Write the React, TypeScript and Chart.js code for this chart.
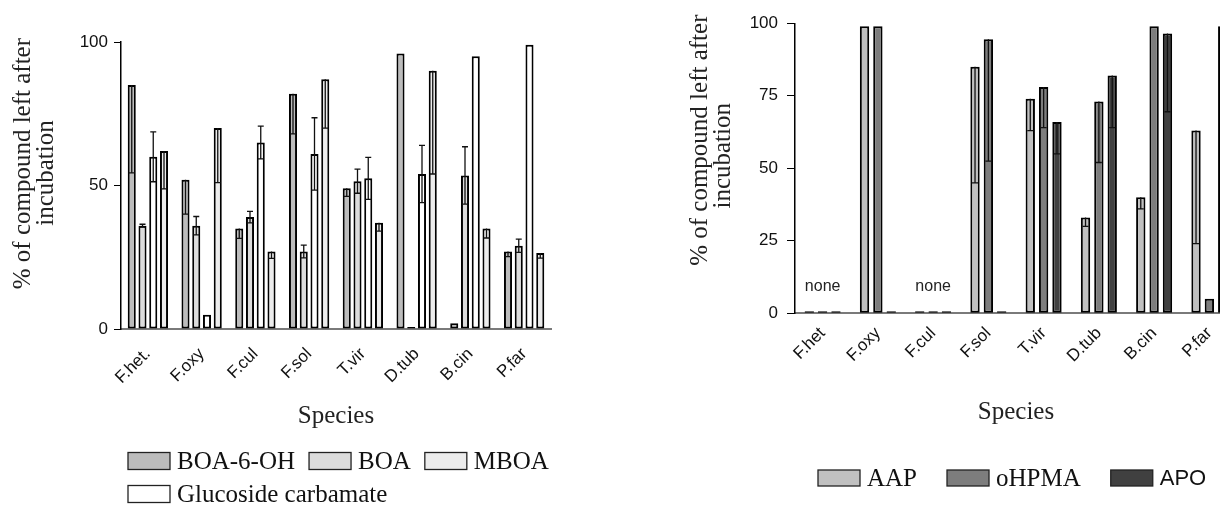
import React, { useEffect, useRef } from 'react';
import { Chart, registerables } from 'chart.js';

Chart.register(...registerables);

// ---------- Left panel data ----------
const speciesLeft = ['F.het.', 'F.oxy', 'F.cul', 'F.sol', 'T.vir', 'D.tub', 'B.cin', 'P.far'];
const boa6ohValues = [85, 52, 35, 82, 49, 96, 2, 27];
const boa6ohErrors = [30.6, 12, 3.4, 14, 2.8, 0, 0, 1.8];
const boaValues = [36, 36, 39, 27, 51.5, 0, 53.5, 29];
const boaErrors = [0.5, 3.2, 2, 2.2, 4.2, 0, 10, 2.3];
const glucosideValues = [60, 5, 65, 61, 52.5, 54, 95, 99];
const glucosideErrors = [8.7, 0, 5.7, 12.6, 7.3, 10, 0, 0];
const mboaValues = [62, 70, 27, 87, 37, 90, 35, 26.5];
const mboaErrors = [13.2, 19, 2.4, 17, 2.9, 36, 3.3, 1.8];
const leftTicks = [0, 50, 100];

// ---------- Right panel data ----------
const speciesRight = ['F.het', 'F.oxy', 'F.cul', 'F.sol', 'T.vir', 'D.tub', 'B.cin', 'P.far'];
const aapValues = [0, 99, 0, 85, 74, 33, 40, 63];
const aapErrors = [0, 0, 0, 40, 11, 3, 4, 39];
const ohpmaValues = [0, 99, 0, 94.5, 78, 73, 99, 5];
const ohpmaErrors = [0, 0, 0, 42, 14, 21, 0, 0];
const apoValues = [0, 0, 0, 0, 66, 82, 96.5, 99];
const apoErrors = [0, 0, 0, 0, 11, 18, 27, 0];
const rightTicks = [0, 25, 50, 75, 100];
const noneSpecies = ['F.het', 'F.cul'];

const yTitle = '% of compound left after';
const yTitle2 = 'incubation';
const xTitle = 'Species';

const SERIF = "'Liberation Serif', 'Times New Roman', serif";
const SANS = "'Liberation Sans', Arial, sans-serif";
const nb = (n: number) => '\u00a0'.repeat(n);

// ---------- plugins ----------
const errorBarPlugin = {
  id: 'errorBars',
  afterDatasetsDraw(chart: any) {
    const { ctx, chartArea } = chart;
    const y = chart.scales.y;
    ctx.save();
    ctx.beginPath();
    ctx.rect(chartArea.left, chartArea.top - 1, chartArea.right - chartArea.left, chartArea.bottom - chartArea.top + 2);
    ctx.clip();
    ctx.strokeStyle = '#111';
    ctx.lineWidth = 1.3;
    chart.data.datasets.forEach((ds: any, i: number) => {
      const meta = chart.getDatasetMeta(i);
      const errs: number[] = ds.errors || [];
      meta.data.forEach((bar: any, j: number) => {
        const e = errs[j];
        if (!e) return;
        const v = ds.data[j];
        const x = bar.x;
        const cap = ds.capHalf || 3;
        const yLow = y.getPixelForValue(v - e);
        const yHigh = ds.errorBoth ? y.getPixelForValue(v + e) : y.getPixelForValue(v);
        ctx.beginPath();
        ctx.moveTo(x, yHigh);
        ctx.lineTo(x, yLow);
        ctx.moveTo(x - cap, yLow);
        ctx.lineTo(x + cap, yLow);
        if (ds.errorBoth) {
          ctx.moveTo(x - cap, yHigh);
          ctx.lineTo(x + cap, yHigh);
        }
        ctx.stroke();
      });
    });
    ctx.restore();
  },
};

const boxLegendPlugin = {
  id: 'boxLegend',
  afterDraw(chart: any, _args: any, opts: any) {
    const { ctx, chartArea } = chart;
    ctx.save();
    opts.rows.forEach((row: number[], r: number) => {
      let x = chartArea.left + opts.startX;
      const yc = opts.rowY[r];
      row.forEach((di: number) => {
        const ds = chart.data.datasets[di];
        ctx.fillStyle = ds.backgroundColor;
        ctx.fillRect(x, yc - opts.boxH / 2, opts.boxW, opts.boxH);
        ctx.strokeStyle = '#222';
        ctx.lineWidth = 1.3;
        ctx.strokeRect(x, yc - opts.boxH / 2, opts.boxW, opts.boxH);
        ctx.font = ds.legendFont || opts.font;
        ctx.textBaseline = 'middle';
        ctx.textAlign = 'left';
        ctx.fillStyle = '#111';
        const tx = x + opts.boxW + opts.gap;
        ctx.fillText(ds.label, tx, yc + 1);
        x = tx + ctx.measureText(ds.label).width + opts.itemGap;
      });
    });
    ctx.restore();
  },
};

const noneLabelPlugin = {
  id: 'noneLabels',
  afterDatasetsDraw(chart: any, _args: any, opts: any) {
    if (!opts || !opts.labels) return;
    const { ctx, chartArea } = chart;
    const xs = chart.scales.x;
    ctx.save();
    ctx.font = `16px ${SANS}`;
    ctx.fillStyle = '#222';
    ctx.textAlign = 'center';
    ctx.textBaseline = 'middle';
    opts.labels.forEach((name: string) => {
      const idx = chart.data.labels.indexOf(name);
      if (idx < 0) return;
      ctx.fillText('none', xs.getPixelForValue(idx), chartArea.bottom - 27);
    });
    ctx.restore();
  },
};

function makeScales(o: {
  ticks: number[];
  yWidth: number;
  xHeight: number;
  titlePad: number;
  titleLines: string[];
  xTitleBottom: number;
  xTickPad: number;
  yTickLen: number;
  yTickPad: number;
}) {
  return {
    x: {
      type: 'category',
      offset: true,
      grid: { display: false, drawTicks: false },
      border: { display: true, color: '#7a7a7a', width: 2 },
      ticks: {
        minRotation: 45,
        maxRotation: 45,
        autoSkip: false,
        padding: o.xTickPad,
        color: '#111',
        font: { family: SANS, size: 17 },
      },
      title: {
        display: true,
        text: xTitle,
        color: '#222',
        font: { family: SERIF, size: 25, lineHeight: '25px' },
        padding: { top: 0, bottom: o.xTitleBottom },
      },
      afterFit: (s: any) => {
        s.height = o.xHeight;
      },
    },
    y: {
      min: 0,
      max: 100,
      afterBuildTicks: (s: any) => {
        s.ticks = o.ticks.map((v) => ({ value: v }));
      },
      grid: {
        display: true,
        drawOnChartArea: false,
        drawTicks: true,
        tickLength: o.yTickLen,
        color: '#000',
        lineWidth: 1,
      },
      border: { display: true, color: '#000', width: 1.5 },
      ticks: {
        padding: o.yTickPad,
        color: '#111',
        font: { family: SANS, size: 17 },
      },
      title: {
        display: true,
        text: o.titleLines,
        color: '#222',
        font: { family: SERIF, size: 25, lineHeight: '23px' },
        padding: { top: o.titlePad, bottom: 0 },
      },
      afterFit: (s: any) => {
        s.width = o.yWidth;
      },
    },
  };
}

function leftConfig(): any {
  const common = { borderColor: '#000', borderWidth: 2, borderSkipped: false, minBarLength: 2, capHalf: 3 };
  return {
    type: 'bar',
    data: {
      labels: speciesLeft,
      datasets: [
        { label: 'BOA-6-OH', data: boa6ohValues, errors: boa6ohErrors, errorBoth: false, backgroundColor: '#bcbcbc', ...common },
        { label: 'BOA', data: boaValues, errors: boaErrors, errorBoth: true, backgroundColor: '#dcdcdc', ...common },
        { label: 'Glucoside carbamate', data: glucosideValues, errors: glucosideErrors, errorBoth: true, backgroundColor: '#ffffff', ...common },
        { label: 'MBOA', data: mboaValues, errors: mboaErrors, errorBoth: false, backgroundColor: '#ececec', ...common },
      ],
    },
    options: {
      responsive: false,
      animation: false,
      devicePixelRatio: 1,
      datasets: { bar: { barPercentage: 0.75, categoryPercentage: 0.8 } },
      layout: { padding: { top: 42, left: 0, right: 49, bottom: 0 } },
      scales: makeScales({
        ticks: leftTicks,
        yWidth: 121,
        xHeight: 176,
        titlePad: 12,
        titleLines: [nb(7) + yTitle, nb(4) + yTitle2],
        xTitleBottom: 76,
        xTickPad: 15,
        yTickLen: 7,
        yTickPad: 6,
      }),
      plugins: {
        legend: { display: false },
        tooltip: { enabled: false },
        boxLegend: {
          rows: [[0, 1, 3], [2]],
          rowY: [461, 494],
          startX: 7,
          boxW: 42,
          boxH: 17,
          gap: 7,
          itemGap: 14,
          font: `25px ${SERIF}`,
        },
      },
    },
    plugins: [errorBarPlugin, boxLegendPlugin],
  };
}

function rightConfig(): any {
  const common = { borderColor: '#000', borderWidth: 2, borderSkipped: false, minBarLength: 2, capHalf: 3, errorBoth: false };
  return {
    type: 'bar',
    data: {
      labels: speciesRight,
      datasets: [
        { label: 'AAP', data: aapValues, errors: aapErrors, backgroundColor: '#c0c0c0', ...common },
        { label: 'oHPMA', data: ohpmaValues, errors: ohpmaErrors, backgroundColor: '#7d7d7d', ...common },
        { label: 'APO', data: apoValues, errors: apoErrors, backgroundColor: '#404040', legendFont: `22px ${SANS}`, ...common },
      ],
    },
    options: {
      responsive: false,
      animation: false,
      devicePixelRatio: 1,
      datasets: { bar: { barPercentage: 0.7, categoryPercentage: 0.725 } },
      layout: { padding: { top: 23.3, left: 0, right: 43, bottom: 0 } },
      scales: makeScales({
        ticks: rightTicks,
        yWidth: 135,
        xHeight: 191.7,
        titlePad: 28.5,
        titleLines: [nb(9) + yTitle, nb(4) + yTitle2],
        xTitleBottom: 80,
        xTickPad: 10,
        yTickLen: 8,
        yTickPad: 9,
      }),
      plugins: {
        legend: { display: false },
        tooltip: { enabled: false },
        noneLabels: { labels: noneSpecies },
        boxLegend: {
          rows: [[0, 1, 2]],
          rowY: [478],
          startX: 23,
          boxW: 42,
          boxH: 16,
          gap: 7,
          itemGap: 30,
          font: `25px ${SERIF}`,
        },
      },
    },
    plugins: [errorBarPlugin, noneLabelPlugin, boxLegendPlugin],
  };
}

function Panel({ make, left, width }: { make: () => any; left: number; width: number }) {
  const ref = useRef<HTMLCanvasElement | null>(null);
  useEffect(() => {
    if (!ref.current) return;
    const chart = new Chart(ref.current, make());
    return () => chart.destroy();
  }, [make]);
  return (
    <canvas
      ref={ref}
      width={width}
      height={505}
      style={{ position: 'absolute', left, top: 0, width, height: 505, display: 'block' }}
    />
  );
}

export default function App() {
  return (
    <div
      style={{
        position: 'fixed',
        left: 0,
        top: 0,
        width: 1220,
        height: 505,
        overflow: 'hidden',
        background: '#ffffff',
      }}
    >
      <Panel make={leftConfig} left={0} width={600} />
      <Panel make={rightConfig} left={660} width={620} />
    </div>
  );
}
